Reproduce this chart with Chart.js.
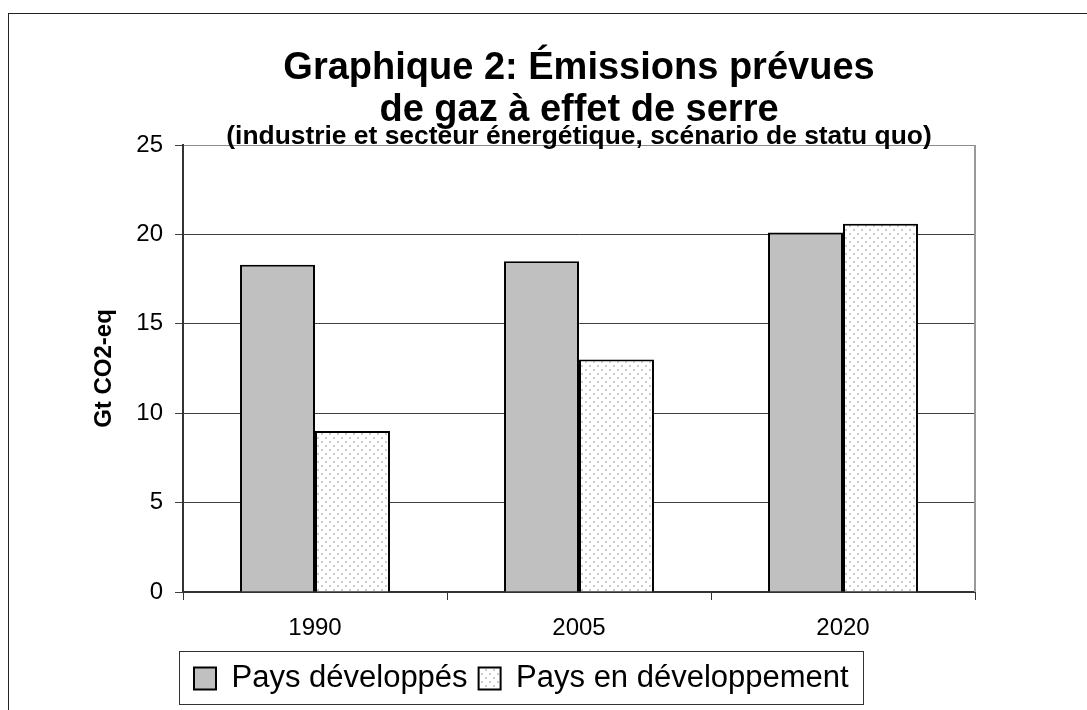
<!DOCTYPE html>
<html lang="fr">
<head>
<meta charset="utf-8">
<title>Graphique 2</title>
<script src="https://cdn.jsdelivr.net/npm/chart.js@4.4.1/dist/chart.umd.min.js"></script>
<style>
  html, body { margin: 0; padding: 0; background: #fff; }
  canvas { display: block; }
</style>
</head>
<body>
<canvas id="emissionsChart" width="1087" height="710"></canvas>
<script>
const years = ["1990", "2005", "2020"];
const developpes = [18.3, 18.5, 20.1];
const enDeveloppement = [9.0, 13.0, 20.6];
const yTicks = [0, 5, 10, 15, 20, 25];

const FONT = "'Liberation Sans', Arial, sans-serif";

// dotted fill like the old office pattern
const makeDots = () => {
  const tile = document.createElement("canvas");
  tile.width = 8;
  tile.height = 8;
  const t = tile.getContext("2d");
  t.fillStyle = "#fff";
  t.fillRect(0, 0, 8, 8);
  t.fillStyle = "#b4b4b4";
  t.beginPath();
  t.arc(2, 2, 0.9, 0, Math.PI * 2);
  t.arc(6, 6, 0.9, 0, Math.PI * 2);
  t.fill();
  return t.createPattern(tile, "repeat");
};

const ctx = document.getElementById("emissionsChart").getContext("2d");
const dots = makeDots();

const frames = {
  id: "frames",
  beforeDraw(chart) {
    const c = chart.ctx;
    c.save();
    c.fillStyle = "#fff";
    c.fillRect(0, 0, chart.width, chart.height);
    c.restore();
  },
  afterDraw(chart) {
    const c = chart.ctx;
    const area = chart.chartArea;
    c.save();
    // right edge of plot
    c.strokeStyle = "#999";
    c.lineWidth = 2;
    c.beginPath();
    c.moveTo(area.right, area.top);
    c.lineTo(area.right, area.bottom);
    c.stroke();
    // legend frame
    const boxes = chart.legend.legendHitBoxes;
    if (boxes && boxes.length) {
      const first = boxes[0];
      const last = boxes[boxes.length - 1];
      const mid = first.top + first.height / 2;
      const left = Math.round(first.left - 15);
      const right = Math.round(last.left + last.width + 14);
      c.strokeStyle = "#333";
      c.lineWidth = 1;
      c.strokeRect(left + 0.5, Math.round(mid - 28) + 0.5, right - left, 53);
    }
    // outer frame
    c.strokeStyle = "#222";
    c.lineWidth = 1;
    c.strokeRect(8.5, 13.5, chart.width + 20, chart.height + 20);
    c.restore();
  },
};

new Chart(ctx, {
  type: "bar",
  data: {
    labels: years,
    datasets: [
      {
        label: "Pays développés",
        data: developpes,
        backgroundColor: "#c0c0c0",
        borderColor: "#000",
        borderWidth: 2,
      },
      {
        label: "Pays en développement",
        data: enDeveloppement,
        backgroundColor: dots,
        borderColor: "#000",
        borderWidth: 2,
      },
    ],
  },
  options: {
    responsive: false,
    animation: false,
    devicePixelRatio: 1,
    datasets: {
      bar: { categoryPercentage: 0.568, barPercentage: 1.0, borderSkipped: "start" },
    },
    layout: { padding: { left: 0, right: 112, top: 0, bottom: 6 } },
    scales: {
      x: {
        offset: true,
        afterFit: (scale) => { scale.height = 60; },
        grid: {
          offset: true,
          drawOnChartArea: false,
          drawTicks: true,
          tickLength: 8,
          color: "#333",
        },
        border: { display: true, color: "#333", width: 2 },
        ticks: { color: "#000", padding: 14, font: { family: FONT, size: 24 } },
      },
      y: {
        min: 0,
        max: 25,
        afterFit: (scale) => { scale.width = 183; },
        afterBuildTicks: (scale) => {
          scale.ticks = yTicks.map((v) => ({ value: v }));
        },
        grid: {
          color: (c) => (c.tick && c.tick.value === 25 ? "#8c8c8c" : "#404040"),
          tickColor: "#404040",
          tickLength: 8,
          lineWidth: 1,
        },
        border: { display: true, color: "#333", width: 2 },
        ticks: { color: "#000", padding: 12, font: { family: FONT, size: 24 } },
        title: {
          display: true,
          text: "Gt CO2-eq",
          color: "#000",
          font: { family: FONT, size: 24, weight: "bold" },
          padding: { top: 90, bottom: 0 },
        },
      },
    },
    plugins: {
      title: {
        display: true,
        fullSize: false,
        text: ["Graphique 2: Émissions prévues", "de gaz à effet de serre"],
        color: "#000",
        font: { family: FONT, size: 38, weight: "bold", lineHeight: 1.1 },
        padding: { top: 48, bottom: -8 },
      },
      subtitle: {
        display: true,
        fullSize: false,
        text: "(industrie et secteur énergétique, scénario de statu quo)",
        color: "#000",
        font: { family: FONT, size: 26.4, weight: "bold", lineHeight: 1.0 },
        padding: { top: 0, bottom: -5 },
      },
      legend: {
        position: "bottom",
        align: "start",
        fullSize: false,
        labels: {
          boxWidth: 22,
          boxHeight: 22,
          padding: 11,
          color: "#000",
          font: { family: FONT, size: 31 },
        },
      },
      tooltip: { enabled: false },
    },
  },
  plugins: [frames],
});
</script>
</body>
</html>
